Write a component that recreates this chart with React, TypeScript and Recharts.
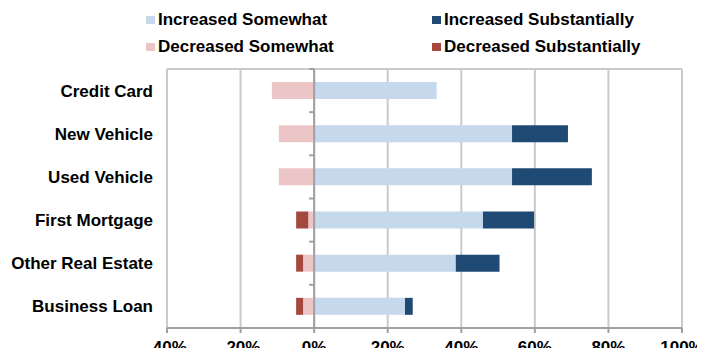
import React from 'react';
import {
  BarChart, Bar, XAxis, YAxis, CartesianGrid, ReferenceLine,
} from 'recharts';

const categories = ['Credit Card', 'New Vehicle', 'Used Vehicle', 'First Mortgage', 'Other Real Estate', 'Business Loan'];
const increasedSomewhat = [33.3, 53.8, 53.8, 45.9, 38.5, 24.7];
const increasedSubstantially = [0, 15.2, 21.7, 13.9, 11.9, 2.1];
const decreasedSomewhat = [-11.5, -9.6, -9.6, -1.6, -3.0, -3.0];
const decreasedSubstantially = [0, 0, 0, -3.3, -1.9, -1.9];
const xTicks = [-40, -20, 0, 20, 40, 60, 80, 100];

const series = [
  { key: 'incSome', name: 'Increased Somewhat', color: '#c5d8ec' },
  { key: 'incSub', name: 'Increased Substantially', color: '#1f4a74' },
  { key: 'decSome', name: 'Decreased Somewhat', color: '#ecc6c6' },
  { key: 'decSub', name: 'Decreased Substantially', color: '#a6483f' },
];

const data = categories.map((name, i) => ({
  name,
  incSome: increasedSomewhat[i],
  incSub: increasedSubstantially[i],
  decSome: decreasedSomewhat[i],
  decSub: decreasedSubstantially[i],
}));

const FONT = '"Liberation Sans", Arial, sans-serif';
const AXIS_GREY = '#a0a0a0';
const GRID_GREY = '#cacaca';

// legend laid out in two columns, two rows
const legendSlots = [
  { left: 146, top: 9 },
  { left: 432, top: 9 },
  { left: 146, top: 36 },
  { left: 432, top: 36 },
];

// zero line with small ticks at the category boundaries
function ZeroAxis(props: any) {
  const { x1, y1, y2 } = props;
  const n = categories.length;
  const step = (y2 - y1) / n;
  return (
    <g>
      <line x1={x1} y1={y1} x2={x1} y2={y2} stroke={AXIS_GREY} strokeWidth={2} />
      {Array.from({ length: n + 1 }, (_, i) => (
        <line key={i} x1={x1 - 5} x2={x1} y1={y1 + i * step} y2={y1 + i * step} stroke={AXIS_GREY} strokeWidth={2} />
      ))}
    </g>
  );
}

export default function App() {
  return (
    <div style={{ position: 'relative', width: 705, height: 356, margin: -8, background: '#fff', fontFamily: FONT }}>
      {series.map((s, i) => (
        <div
          key={s.key}
          style={{
            position: 'absolute', left: legendSlots[i].left, top: legendSlots[i].top,
            height: 22, display: 'flex', alignItems: 'center',
            fontSize: 17, fontWeight: 700, color: '#000', whiteSpace: 'nowrap',
          }}
        >
          <span style={{ width: 9, height: 8, background: s.color, marginRight: 3, display: 'inline-block' }} />
          {s.name}
        </div>
      ))}
      <BarChart
        width={705}
        height={356}
        data={data}
        layout="vertical"
        stackOffset="sign"
        barSize={17}
        margin={{ top: 69, right: 23, bottom: 0, left: 0 }}
      >
        <CartesianGrid
          stroke={GRID_GREY}
          strokeWidth={2}
          horizontalCoordinatesGenerator={({ offset }: any) => [offset.top]}
        />
        <XAxis
          type="number"
          domain={[-40, 100]}
          ticks={xTicks}
          height={28}
          tickFormatter={(v) => `${v}%`}
          axisLine={{ stroke: AXIS_GREY, strokeWidth: 2 }}
          tickLine={{ stroke: AXIS_GREY, strokeWidth: 2 }}
          tickSize={5}
          tickMargin={8}
          tick={{ fill: '#000', fontSize: 17, fontWeight: 700, fontFamily: FONT }}
        />
        <YAxis
          type="category"
          dataKey="name"
          width={167}
          axisLine={false}
          tickLine={false}
          tickSize={0}
          tickMargin={14}
          tick={{ fill: '#000', fontSize: 17, fontWeight: 700, fontFamily: FONT }}
        />
        {series.map((s) => (
          <Bar key={s.key} dataKey={s.key} name={s.name} stackId="a" fill={s.color} isAnimationActive={false} />
        ))}
        <ReferenceLine x={0} shape={(p: any) => <ZeroAxis {...p} />} />
      </BarChart>
    </div>
  );
}
